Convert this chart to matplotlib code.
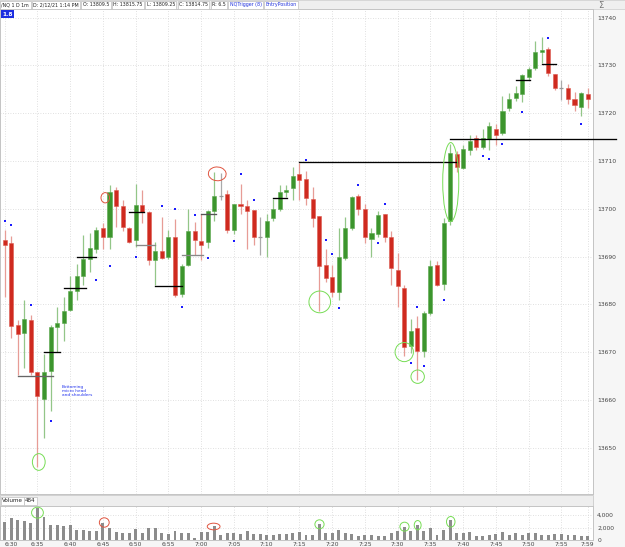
import matplotlib.pyplot as plt
import numpy as np
from matplotlib.patches import Ellipse, Rectangle

# 1-minute NQ bars, 6:30 to 7:59
opens = [13693.5, 13692.75, 13675.75, 13674.0, 13676.75, 13665.75, 13660.25, 13666.0, 13675.25, 13676.0,
         13678.75, 13682.75, 13686.0, 13689.5, 13691.5, 13696.0, 13694.0, 13704.0, 13700.5, 13696.0,
         13693.5, 13700.75, 13699.25, 13689.25, 13691.25, 13690.0, 13694.0, 13682.25, 13688.25, 13695.25,
         13693.25, 13693.0, 13699.5, 13702.75, 13703.0, 13695.5, 13701.0, 13700.5, 13699.75, 13694.0,
         13694.0, 13698.0, 13700.0, 13703.5, 13704.25, 13707.25, 13706.25, 13702.0, 13698.5, 13688.25,
         13685.75, 13682.5, 13689.75, 13696.0, 13702.75, 13700.0, 13693.75, 13694.75, 13699.0, 13694.0,
         13687.25, 13683.5, 13671.25, 13675.0, 13670.25, 13678.25, 13688.25, 13684.25, 13697.5, 13711.5,
         13708.5, 13712.25, 13714.75, 13713.0, 13714.5, 13716.75, 13715.75, 13721.0, 13723.25, 13724.0,
         13727.5, 13729.5, 13732.75, 13733.5, 13728.25, 13725.25, 13725.25, 13723.0, 13721.25, 13724.0]
highs = [13695.5, 13694.25, 13676.75, 13681.0, 13677.75, 13665.75, 13669.5, 13675.75, 13679.5, 13681.5,
         13686.0, 13688.5, 13694.5, 13695.0, 13696.25, 13697.0, 13705.0, 13704.5, 13701.75, 13696.25,
         13705.25, 13704.0, 13699.5, 13693.0, 13698.25, 13695.5, 13697.75, 13688.5, 13700.0, 13697.25,
         13699.0, 13699.75, 13707.75, 13707.5, 13704.0, 13701.0, 13705.25, 13701.75, 13699.75, 13698.25,
         13699.0, 13702.0, 13705.0, 13705.0, 13708.75, 13709.5, 13708.0, 13704.5, 13698.5, 13691.5,
         13688.25, 13696.0, 13698.25, 13702.75, 13703.0, 13701.0, 13696.0, 13699.5, 13699.0, 13695.25,
         13690.75, 13684.0, 13677.0, 13677.5, 13678.5, 13689.25, 13689.0, 13698.0, 13713.5, 13712.0,
         13713.25, 13715.5, 13715.5, 13716.75, 13718.25, 13717.75, 13723.5, 13724.25, 13725.75, 13728.25,
         13729.75, 13735.0, 13736.0, 13733.75, 13728.25, 13727.0, 13726.0, 13724.5, 13724.5, 13725.25]
lows = [13681.5, 13673.0, 13665.25, 13666.75, 13665.25, 13646.0, 13652.0, 13657.75, 13670.0, 13672.25,
        13678.5, 13681.0, 13684.0, 13686.75, 13690.75, 13691.5, 13691.5, 13696.25, 13695.25, 13692.75,
        13692.0, 13697.0, 13688.25, 13684.0, 13689.5, 13689.5, 13681.5, 13681.5, 13688.0, 13690.25,
        13689.25, 13691.75, 13697.5, 13701.75, 13695.0, 13694.75, 13699.0, 13691.5, 13692.5, 13690.25,
        13690.0, 13697.5, 13699.5, 13702.5, 13701.75, 13701.75, 13700.75, 13696.25, 13678.5, 13684.75,
        13681.5, 13681.0, 13689.25, 13695.5, 13698.75, 13692.75, 13690.0, 13694.0, 13693.0, 13684.0,
        13679.5, 13669.25, 13669.75, 13664.25, 13669.0, 13677.75, 13683.75, 13683.0, 13696.5, 13707.75,
        13708.25, 13711.25, 13712.25, 13712.5, 13712.25, 13713.25, 13715.5, 13720.5, 13722.5, 13722.25,
        13727.0, 13729.0, 13730.5, 13727.75, 13724.75, 13722.75, 13722.0, 13720.5, 13719.5, 13721.0]
closes = [13692.5, 13675.5, 13673.75, 13677.0, 13665.75, 13660.75, 13665.75, 13675.25, 13676.0, 13678.5,
          13682.75, 13686.0, 13689.5, 13691.75, 13695.5, 13694.0, 13703.5, 13700.5, 13696.25, 13693.0,
          13700.75, 13699.25, 13689.25, 13691.25, 13689.75, 13694.0, 13682.0, 13688.0, 13695.25, 13693.5,
          13692.5, 13699.5, 13702.75, 13702.75, 13695.5, 13701.0, 13700.5, 13699.5, 13694.0, 13694.0,
          13697.5, 13700.0, 13703.5, 13704.0, 13706.75, 13706.0, 13702.25, 13698.0, 13688.0, 13685.5,
          13682.5, 13690.0, 13696.0, 13702.5, 13700.0, 13694.0, 13695.0, 13698.75, 13694.0, 13687.5,
          13683.75, 13671.0, 13674.5, 13670.25, 13678.25, 13688.0, 13684.0, 13697.0, 13711.75, 13708.75,
          13712.5, 13714.25, 13713.0, 13714.75, 13717.25, 13715.5, 13720.5, 13723.0, 13724.25, 13728.0,
          13729.25, 13732.75, 13733.25, 13728.5, 13725.25, 13725.25, 13723.0, 13721.75, 13724.25, 13723.0]
volumes = [2830, 3470, 3200, 3090, 2770, 5050, 3730, 2450, 2450, 2190,
           2350, 1650, 1650, 1440, 1440, 2670, 1870, 1230, 1070, 1070,
           1760, 1170, 1920, 1920, 1170, 960, 1490, 1070, 1070, 320,
           1330, 1230, 2240, 850, 1070, 1070, 1010, 1490, 960, 960,
           850, 750, 1010, 910, 1070, 1330, 830, 880, 2560, 1070,
           1070, 1600, 1120, 960, 590, 800, 750, 640, 590, 1170,
           1490, 2130, 1490, 2450, 1390, 1970, 850, 1600, 3200, 1170,
           1170, 1230, 640, 690, 850, 960, 1280, 800, 1120, 850,
           1070, 1070, 850, 850, 910, 960, 750, 750, 640, 590]

# NQTrigger dots (bar index, price)
trig_idx = [0, 1, 4, 7, 14, 16, 20, 24, 26, 27, 29, 31, 35, 36, 38, 46,
            49, 50, 51, 54, 57, 58, 62, 63, 64, 67, 73, 74, 76, 79, 83, 88]
trig_px = [13697.5, 13696.5, 13679.75, 13655.5, 13685.0, 13688.0, 13690.0, 13700.5,
           13700.0, 13679.5, 13698.75, 13689.75, 13693.25, 13707.25, 13701.75, 13710.25,
           13693.5, 13690.5, 13679.25, 13705.0, 13692.75, 13701.0, 13667.75, 13679.5,
           13667.0, 13681.0, 13711.0, 13710.5, 13713.5, 13720.25, 13735.75, 13717.75]

# EntryPosition levels
entry_from = [2, 6, 9, 11, 19, 20, 23, 27, 30, 41, 45, 68, 78, 82]
entry_to = [7.3, 8.4, 12.4, 14, 21.3, 23, 27, 30.3, 32.2, 43.1, 69.1, 93.4, 80.2, 84.2]
entry_px = [13665.0, 13670.0, 13683.5, 13690.0, 13699.25, 13692.5, 13683.75, 13690.25,
            13699.0, 13702.25, 13709.75, 13714.5, 13727.0, 13730.25]
entry_col = ['#666666', 'black', 'black', 'black', 'black', '#888888', 'black', '#888888',
             '#555555', 'black', 'black', 'black', 'black', 'black']

# hand-drawn marks: bar index, price, width (bars), height (points), colour, angle
marks_x = [5.2, 15.35, 32.45, 48.1, 61.0, 63.05, 68.1]
marks_y = [13647.0, 13702.3, 13707.3, 13680.5, 13670.0, 13664.85, 13705.6]
marks_w = [1.95, 1.3, 2.7, 3.3, 2.8, 2.05, 2.45]
marks_h = [3.5, 2.15, 2.9, 4.55, 4.0, 2.8, 16.5]
marks_c = ['#77dd55', '#e05540', '#e05540', '#77dd55', '#77dd55', '#77dd55', '#77dd55']
marks_a = [0, 0, 15, 0, 0, 0, 0]

vmarks_x = [5.0, 15.2, 31.9, 48.06, 61.04, 63.05, 68.1]
vmarks_y = [4370, 2800, 2160, 2510, 2130, 2370, 2910]
vmarks_w = [1.8, 1.5, 1.95, 1.4, 1.4, 1.05, 1.3]
vmarks_h = [1760, 1500, 1060, 1440, 1440, 1490, 1700]
vmarks_c = ['#77dd55', '#e05540', '#e05540', '#77dd55', '#77dd55', '#77dd55', '#77dd55']

tick_idx = list(range(0, 90, 5)) + [89]
tick_lbl = ['6:30', '6:35', '6:40', '6:45', '6:50', '6:55', '7:00', '7:05', '7:10',
            '7:15', '7:20', '7:25', '7:30', '7:35', '7:40', '7:45', '7:50', '7:55', '7:59']
price_ticks = [13650, 13660, 13670, 13680, 13690, 13700, 13710, 13720, 13730, 13740]

heads = ['/NQ 1 D 1m', 'D: 2/12/21 1:14 PM', 'O: 13809.5', 'H: 13815.75', 'L: 13809.25',
         'C: 13814.75', 'R: 6.5', 'NQTrigger (8)', 'EntryPosition']

W, H = 625, 547
fig = plt.figure(figsize=(W / 100, H / 100), dpi=100)
fig.patch.set_facecolor('#f6f6f6')


def fy(py):
    return 1 - py / H


ax = fig.add_axes([0, fy(494), 593 / W, fy(9) - fy(494)])
axv = fig.add_axes([0, fy(540), 593 / W, fy(506) - fy(540)])

for a in (ax, axv):
    a.set_facecolor('white')
    for s in a.spines.values():
        s.set_color('#c4c4c4')
        s.set_linewidth(0.7)
    a.set_xlim(-0.72, 89.82)
    a.tick_params(length=0, labelsize=4.3, colors='#444444', pad=3)
    a.yaxis.tick_right()
    for t in tick_idx:
        a.axvline(t, color='#d6d6d6', lw=0.6, ls=(0, (1, 2)), zorder=0)

ax.set_ylim(13640.3, 13741.8)
ax.set_yticks(price_ticks)
ax.set_xticks([])
for p in price_ticks:
    ax.axhline(p, color='#d6d6d6', lw=0.6, ls=(0, (1, 2)), zorder=0)

x = np.arange(len(opens))
o = np.array(opens)
c = np.array(closes)
up = c > o
dn = c < o
flat = c == o

wick_col = np.where(up, '#93c688', np.where(dn, '#e79c96', '#aaaaaa'))
ax.vlines(x, lows, highs, colors=wick_col, lw=0.9, zorder=2)
ax.bar(x[up], (c - o)[up], bottom=o[up], width=0.62, color='#3c952d',
       edgecolor='#5aa84c', lw=0.4, zorder=3)
ax.bar(x[dn], (c - o)[dn], bottom=o[dn], width=0.62, color='#cf2a1f',
       edgecolor='#dd5a50', lw=0.4, zorder=3)
ax.hlines(o[flat], x[flat] - 0.31, x[flat] + 0.31, colors='#999999', lw=0.9, zorder=3)

ax.scatter(trig_idx, trig_px, s=2.5, marker='s', color='#1a1aff', lw=0, zorder=4)

for i in range(len(entry_px)):
    ax.plot([entry_from[i], entry_to[i]], [entry_px[i], entry_px[i]],
            color=entry_col[i], lw=0.95, zorder=5, clip_on=(i != 11))

for i in range(len(marks_x)):
    ax.add_patch(Ellipse((marks_x[i], marks_y[i]), marks_w[i], marks_h[i], angle=marks_a[i],
                         fill=False, ec=marks_c[i], lw=0.7, zorder=6))

ax.text(8.7, 13663.2, 'Bottoming\nmicro head\nand shoulders', color='#2233ee',
        fontsize=3.1, va='top', ha='left', linespacing=1.05)

# volume panel
axv.set_ylim(0, 5440)
axv.set_yticks([0, 2000, 4000])
axv.set_yticklabels(['0', '2,000', '4,000'])
for v in (2000, 4000):
    axv.axhline(v, color='#d6d6d6', lw=0.6, ls=(0, (1, 2)), zorder=0)
axv.bar(x, volumes, width=0.45, color='#8c8c8c', zorder=2)
for i in range(len(vmarks_x)):
    axv.add_patch(Ellipse((vmarks_x[i], vmarks_y[i]), vmarks_w[i], vmarks_h[i],
                          fill=False, ec=vmarks_c[i], lw=0.7, zorder=6, clip_on=False))
axv.set_xticks(tick_idx)
axv.set_xticklabels(tick_lbl)
axv.tick_params(axis='x', pad=1.2)
axv.get_xticklabels()[0].set_ha('left')

# header strip, boxes laid out one after another
fig.patches.append(Rectangle((0, fy(9)), 1, fy(0) - fy(9), transform=fig.transFigure,
                             fc='#efefef', ec='#cccccc', lw=0.5, zorder=-1))
fig.canvas.draw()
renderer = fig.canvas.get_renderer()
hx = 1.5
for i, h in enumerate(heads):
    t = fig.text(hx / W, fy(4.6), h, fontsize=3.4, va='center', ha='left',
                 color='#2233dd' if i >= 7 else '#222222',
                 bbox=dict(boxstyle='square,pad=0.3', fc='white', ec='#c0c0c0', lw=0.5))
    hx += t.get_window_extent(renderer).width + 4

fig.text(2 / W, fy(14), '1.8', fontsize=4.2, color='white', va='center', ha='left',
         fontweight='bold', bbox=dict(boxstyle='square,pad=0.25', fc='#1d2ee0', ec='none'))
fig.text(601 / W, fy(5), 'Σ', fontsize=6, color='#777777', va='center', ha='center')

# volume header strip
fig.patches.append(Rectangle((0, fy(506)), 593 / W, fy(495) - fy(506), transform=fig.transFigure,
                             fc='#eeeeee', ec='#c4c4c4', lw=0.5, zorder=-1))
fig.text(2 / W, fy(501), 'Volume', fontsize=4.1, va='center', ha='left', color='#222222',
         bbox=dict(boxstyle='square,pad=0.25', fc='white', ec='#c0c0c0', lw=0.5))
fig.text(25 / W, fy(501), '484', fontsize=4.1, va='center', ha='left', color='#222222',
         bbox=dict(boxstyle='square,pad=0.25', fc='white', ec='#c0c0c0', lw=0.5))

fig.savefig('out.png', dpi=100, facecolor=fig.get_facecolor())
